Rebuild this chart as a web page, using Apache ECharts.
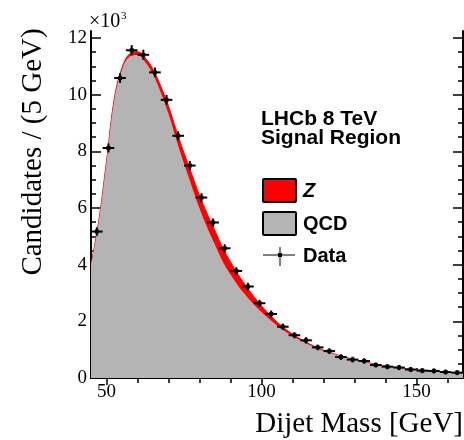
<!DOCTYPE html>
<html>
<head>
<meta charset="utf-8">
<script src="https://cdn.jsdelivr.net/npm/echarts@6/dist/echarts.min.js"></script>
<style>
  html, body { margin: 0; padding: 0; background: #fff; }
  #chart { width: 464px; height: 440px; }
</style>
</head>
<body>
<div id="chart"></div>
<script>
// Dijet mass spectrum in the signal region (counts in thousands)
const binWidth = 3.75;
const dataMass = [46.875, 50.625, 54.375, 58.125, 61.875, 65.625, 69.375, 73.125,
  76.875, 80.625, 84.375, 88.125, 91.875, 95.625, 99.375, 103.125,
  106.875, 110.625, 114.375, 118.125, 121.875, 125.625, 129.375, 133.125,
  136.875, 140.625, 144.375, 148.125, 151.875, 155.625, 159.375, 163.125];
const dataCounts = [5.17, 8.12, 10.59, 11.57, 11.41, 10.79, 9.82, 8.55,
  7.50, 6.37, 5.49, 4.58, 3.78, 3.23, 2.64, 2.26,
  1.81, 1.51, 1.33, 1.08, 0.95, 0.74, 0.65, 0.60,
  0.46, 0.40, 0.37, 0.30, 0.26, 0.25, 0.21, 0.19];
const dataErr = [0.08, 0.09, 0.10, 0.11, 0.11, 0.10, 0.10, 0.09,
  0.09, 0.08, 0.07, 0.07, 0.06, 0.06, 0.05, 0.05,
  0.04, 0.04, 0.04, 0.03, 0.03, 0.03, 0.03, 0.03,
  0.02, 0.02, 0.02, 0.02, 0.02, 0.02, 0.02, 0.02];

// Fit components: QCD background and Z signal on top of it
const curveMass = [45, 47.5, 50, 52.5, 55, 57.5, 60, 62.5, 65, 67.5, 70, 72.5,
  75, 77.5, 80, 82.5, 85, 87.5, 90, 92.5, 95, 97.5, 100, 102.5, 105, 107.5,
  110, 112.5, 115, 117.5, 120, 125, 130, 135, 140, 145, 150, 155, 160, 165];
const qcdCurve = [3.98, 5.52, 7.61, 9.80, 10.88, 11.35, 11.40, 11.15, 10.72, 10.08, 9.33, 8.43,
  7.57, 6.77, 5.99, 5.31, 4.70, 4.11, 3.65, 3.25, 2.91, 2.60, 2.33, 2.08, 1.85, 1.65,
  1.48, 1.33, 1.19, 1.07, 0.96, 0.79, 0.64, 0.52, 0.42, 0.34, 0.28, 0.23, 0.19, 0.16];
const zCurve = [0.02, 0.03, 0.04, 0.05, 0.07, 0.10, 0.12, 0.15, 0.18, 0.22, 0.27, 0.32,
  0.38, 0.43, 0.46, 0.49, 0.50, 0.49, 0.45, 0.40, 0.34, 0.28, 0.22, 0.17, 0.13, 0.10,
  0.07, 0.05, 0.04, 0.03, 0.02, 0.01, 0.01, 0.01, 0.01, 0.01, 0.01, 0.01, 0.01, 0.01];

// Axis ticks
const xMajorTicks = [50, 100, 150];
const xMinorTicks = [60, 70, 80, 90, 110, 120, 130, 140, 160];
const yMajorTicks = [0, 2, 4, 6, 8, 10, 12];
const yMinorTicks = [0.5, 1, 1.5, 2.5, 3, 3.5, 4.5, 5, 5.5, 6.5, 7, 7.5,
  8.5, 9, 9.5, 10.5, 11, 11.5];

const SERIF = '"Liberation Serif", "Times New Roman", serif';
const SANS = '"Liberation Sans", Arial, sans-serif';
const X_MIN = 45, X_MAX = 165, Y_MIN = 0, Y_MAX = 12.25;

// Signal sits on top of the background: total = QCD + Z
const totalPoints = curveMass.map((m, i) => [m, qcdCurve[i] + zCurve[i]]);
const qcdPoints = curveMass.map((m, i) => [m, qcdCurve[i]]);

function xAxisDef(position, ticks, len, withLine, withLabels) {
  return {
    type: 'value', position: position, min: X_MIN, max: X_MAX,
    axisLine: { show: withLine, lineStyle: { color: '#000', width: 2 } },
    axisTick: { show: true, inside: true, length: len, customValues: ticks,
      lineStyle: { color: '#000', width: 1.5 } },
    axisLabel: withLabels ? { show: true, customValues: ticks, margin: 5,
      color: '#000', fontFamily: SERIF, fontSize: 19 } : { show: false },
    splitLine: { show: false }
  };
}
function yAxisDef(position, ticks, len, withLine, withLabels) {
  return {
    type: 'value', position: position, min: Y_MIN, max: Y_MAX,
    axisLine: { show: withLine, lineStyle: { color: '#000', width: 2 } },
    axisTick: { show: true, inside: true, length: len, customValues: ticks,
      lineStyle: { color: '#000', width: 1.5 } },
    axisLabel: withLabels ? { show: true, customValues: ticks, margin: 4,
      color: '#000', fontFamily: SERIF, fontSize: 19 } : { show: false },
    splitLine: { show: false }
  };
}

const chart = echarts.init(document.getElementById('chart'), null, { renderer: 'canvas' });

const option = {
  animation: false,
  backgroundColor: '#fff',
  grid: { left: 91, right: 1, top: 31, bottom: 62, containLabel: false, outerBoundsMode: 'none' },
  xAxis: [
    xAxisDef('bottom', xMajorTicks, 10, true, true),
    xAxisDef('bottom', xMinorTicks, 5, false, false),
    xAxisDef('top', xMajorTicks, 7, true, false),
    xAxisDef('top', xMinorTicks, 5, false, false)
  ],
  yAxis: [
    yAxisDef('left', yMajorTicks, 10, true, true),
    yAxisDef('left', yMinorTicks, 5, false, false),
    yAxisDef('right', yMajorTicks, 10, true, false),
    yAxisDef('right', yMinorTicks, 5, false, false)
  ],
  series: [
    {
      name: 'Z', type: 'line', smooth: 0.4,
      data: totalPoints,
      showSymbol: false, lineStyle: { width: 1, color: '#ff0000' },
      areaStyle: { color: '#ff0000', opacity: 1 },
      z: 1
    },
    {
      name: 'QCD', type: 'line', smooth: 0.4,
      data: qcdPoints,
      showSymbol: false, lineStyle: { width: 0 },
      areaStyle: { color: '#b4b4b4', opacity: 1 },
      z: 2
    },
    {
      name: 'Data', type: 'custom',
      data: dataMass.map((m, i) => [m, dataCounts[i], dataErr[i]]),
      z: 5,
      renderItem: function (params, api) {
        const x = api.value(0), y = api.value(1), e = api.value(2);
        const l = api.coord([x - binWidth / 2, y]);
        const r = api.coord([x + binWidth / 2, y]);
        const t = api.coord([x, y + e]);
        const b = api.coord([x, y - e]);
        const c = api.coord([x, y]);
        return {
          type: 'group',
          children: [
            { type: 'line', shape: { x1: l[0], y1: l[1], x2: r[0], y2: r[1] },
              style: { stroke: '#000', lineWidth: 2 } },
            { type: 'line', shape: { x1: t[0], y1: t[1] - 2, x2: b[0], y2: b[1] + 2 },
              style: { stroke: '#000', lineWidth: 2 } },
            { type: 'rect', shape: { x: c[0] - 2, y: c[1] - 2, width: 4, height: 4 },
              style: { fill: '#000' } }
          ]
        };
      }
    }
  ],
  graphic: [
    // axis titles
    { type: 'text', x: 33, y: 152, rotation: Math.PI / 2, z: 10,
      style: { text: 'Candidates / (5 GeV)', font: '29px ' + SERIF, fill: '#000',
        textAlign: 'center', textVerticalAlign: 'middle' } },
    { type: 'text', x: 463, y: 424, z: 10,
      style: { text: 'Dijet Mass [GeV]', font: '29px ' + SERIF, fill: '#000',
        textAlign: 'right', textVerticalAlign: 'middle' } },
    { type: 'text', x: 89, y: 22, z: 10,
      style: { text: '×10', font: '20px ' + SERIF, fill: '#000',
        textAlign: 'left', textVerticalAlign: 'middle' } },
    { type: 'text', x: 121, y: 16, z: 10,
      style: { text: '3', font: '11px ' + SERIF, fill: '#000',
        textAlign: 'left', textVerticalAlign: 'middle' } },
    // labels
    { type: 'text', x: 261, y: 130, z: 10,
      style: { text: 'LHCb 8 TeV', font: 'bold 21px ' + SANS, fill: '#000',
        textAlign: 'left', textVerticalAlign: 'bottom' } },
    { type: 'text', x: 261, y: 149, z: 10,
      style: { text: 'Signal Region', font: 'bold 21px ' + SANS, fill: '#000',
        textAlign: 'left', textVerticalAlign: 'bottom' } },
    // legend
    { type: 'rect', z: 10, shape: { x: 263, y: 179, width: 33, height: 23, r: 1 },
      style: { fill: '#ff0000', stroke: '#000', lineWidth: 2 } },
    { type: 'text', x: 303, y: 191, z: 10,
      style: { text: 'Z', font: 'italic bold 20px ' + SANS, fill: '#000',
        textAlign: 'left', textVerticalAlign: 'middle' } },
    { type: 'rect', z: 10, shape: { x: 263, y: 212, width: 33, height: 23, r: 1 },
      style: { fill: '#b4b4b4', stroke: '#000', lineWidth: 2 } },
    { type: 'text', x: 303, y: 224, z: 10,
      style: { text: 'QCD', font: 'bold 20px ' + SANS, fill: '#000',
        textAlign: 'left', textVerticalAlign: 'middle' } },
    { type: 'line', z: 10, shape: { x1: 263, y1: 255, x2: 295, y2: 255 },
      style: { stroke: '#000', lineWidth: 1 } },
    { type: 'line', z: 10, shape: { x1: 280, y1: 247, x2: 280, y2: 266 },
      style: { stroke: '#000', lineWidth: 1 } },
    { type: 'rect', z: 10, shape: { x: 278, y: 253, width: 4, height: 4 },
      style: { fill: '#000' } },
    { type: 'text', x: 303, y: 256, z: 10,
      style: { text: 'Data', font: 'bold 20px ' + SANS, fill: '#000',
        textAlign: 'left', textVerticalAlign: 'middle' } }
  ]
};

chart.setOption(option);
</script>
</body>
</html>
